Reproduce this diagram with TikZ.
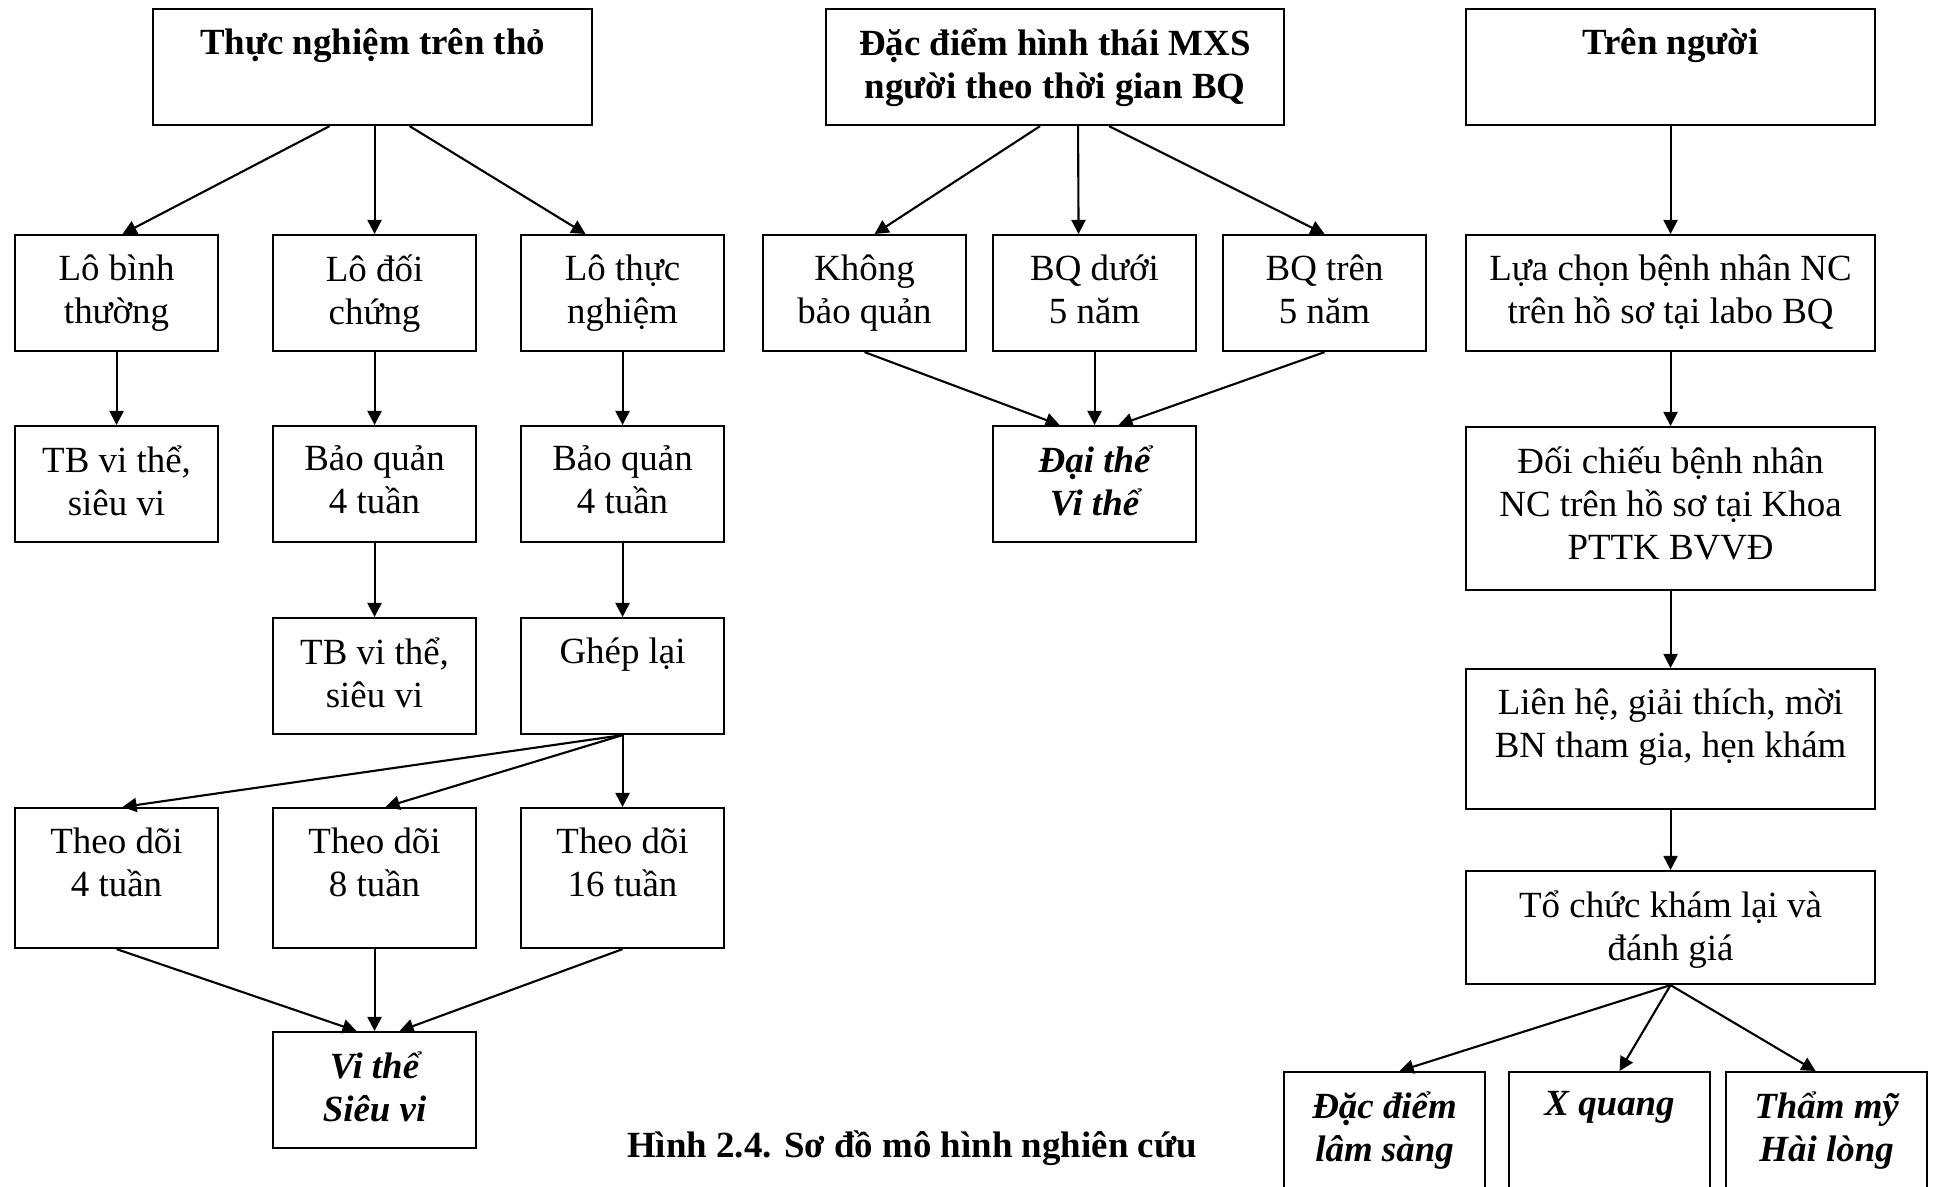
\documentclass[tikz,border=0pt]{standalone}
\usepackage{fontspec}
\setmainfont{Liberation Serif}
\usetikzlibrary{arrows.meta}

\tikzset{
	box/.style={draw, line width=0.6pt, anchor=north west, inner sep=0pt, minimum width=2.03cm, minimum height=1.16cm},
	wide/.style={box, minimum width=4.09cm},
	txt/.style={anchor=north, yshift=-0.2cm, align=center, inner sep=0pt, font=\fontsize{10.5pt}{12.2pt}\selectfont},
	btxt/.style={txt, font=\fontsize{10.5pt}{12.2pt}\selectfont\bfseries},
	itxt/.style={txt, font=\fontsize{10.5pt}{12.2pt}\selectfont\bfseries\itshape},
	arr/.style={-{Triangle[length=4pt,width=4pt]}, line width=0.6pt}
}

\begin{document}
\begin{tikzpicture}
	\useasboundingbox (0,0) rectangle (19.37,-11.86);
	
	% thuc nghiem tren tho
	\node[box, minimum width=4.39cm, label={[btxt]north:Thực nghiệm trên thỏ}] (thuc) at (1.52,-0.08) {};
	\node[box, label={[txt]north:{Lô bình\\thường}}] (lobinh) at (0.14,-2.34) {};
	\node[box, label={[txt]north:{Lô đối\\chứng}}] (lodoi) at (2.72,-2.34) {};
	\node[box, label={[txt]north:{Lô thực\\nghiệm}}] (lothuc) at (5.20,-2.34) {};
	\node[box, label={[txt]north:{TB vi thể,\\siêu vi}}] (tbvi1) at (0.14,-4.25) {};
	\node[box, label={[txt]north:{Bảo quản\\4 tuần}}] (baoquan1) at (2.72,-4.25) {};
	\node[box, label={[txt]north:{Bảo quản\\4 tuần}}] (baoquan2) at (5.20,-4.25) {};
	\node[box, label={[txt]north:{TB vi thể,\\siêu vi}}] (tbvi2) at (2.72,-6.17) {};
	\node[box, label={[txt]north:Ghép lại}] (ghep) at (5.20,-6.17) {};
	\node[box, minimum height=1.40cm, label={[txt]north:{Theo dõi\\4 tuần}}] (theodoi4) at (0.14,-8.07) {};
	\node[box, minimum height=1.40cm, label={[txt]north:{Theo dõi\\8 tuần}}] (theodoi8) at (2.72,-8.07) {};
	\node[box, minimum height=1.40cm, label={[txt]north:{Theo dõi\\16 tuần}}] (theodoi16) at (5.20,-8.07) {};
	\node[box, label={[itxt]north:{Vi thể\\Siêu vi}}] (visieu) at (2.72,-10.31) {};
	
	\draw[arr] ([xshift=-0.43cm]thuc.south) -- ([xshift=0.06cm]lobinh.north);
	\draw[arr] (lodoi.north |- thuc.south) -- (lodoi.north);
	\draw[arr] ([xshift=0.37cm]thuc.south) -- ([xshift=-0.37cm]lothuc.north);
	\draw[arr] (lobinh.south) -- (tbvi1.north);
	\draw[arr] (lodoi.south) -- (baoquan1.north);
	\draw[arr] (lothuc.south) -- (baoquan2.north);
	\draw[arr] (baoquan1.south) -- (tbvi2.north);
	\draw[arr] (baoquan2.south) -- (ghep.north);
	\draw[arr] (ghep.south) -- ([xshift=0.06cm]theodoi4.north);
	\draw[arr] (ghep.south) -- ([xshift=0.11cm]theodoi8.north);
	\draw[arr] (ghep.south) -- (theodoi16.north);
	\draw[arr] (theodoi4.south) -- ([xshift=-0.18cm]visieu.north);
	\draw[arr] (theodoi8.south) -- (visieu.north);
	\draw[arr] (theodoi16.south) -- ([xshift=0.25cm]visieu.north);
	
	% MXS nguoi
	\node[box, minimum width=4.58cm, label={[btxt]north:{Đặc điểm hình thái MXS\\người theo thời gian BQ}}] (dacdiem) at (8.25,-0.08) {};
	\node[box, label={[txt]north:{Không\\bảo quản}}] (khong) at (7.62,-2.34) {};
	\node[box, label={[txt]north:{BQ dưới\\5 năm}}] (duoi) at (9.92,-2.34) {};
	\node[box, label={[txt]north:{BQ trên\\5 năm}}] (tren) at (12.22,-2.34) {};
	\node[box, label={[itxt]north:{Đại thể\\Vi thể}}] (daithe) at (9.92,-4.25) {};
	
	\draw[arr] ([xshift=-0.15cm]dacdiem.south) -- ([xshift=0.10cm]khong.north);
	\draw[arr] ([xshift=0.23cm]dacdiem.south) -- ([xshift=-0.16cm]duoi.north);
	\draw[arr] ([xshift=0.54cm]dacdiem.south) -- (tren.north);
	\draw[arr] (khong.south) -- ([xshift=-0.35cm]daithe.north);
	\draw[arr] (duoi.south) -- (daithe.north);
	\draw[arr] (tren.south) -- ([xshift=0.24cm]daithe.north);
	
	% tren nguoi
	\node[wide, label={[btxt]north:Trên người}] (trennguoi) at (14.65,-0.08) {};
	\node[wide, label={[txt]north:{Lựa chọn bệnh nhân NC\\trên hồ sơ tại labo BQ}}] (luachon) at (14.65,-2.34) {};
	\node[wide, minimum height=1.63cm, label={[txt]north:{Đối chiếu bệnh nhân\\NC trên hồ sơ tại Khoa\\PTTK BVVĐ}}] (doichieu) at (14.65,-4.26) {};
	\node[wide, minimum height=1.40cm, label={[txt]north:{Liên hệ, giải thích, mời\\BN tham gia, hẹn khám}}] (lienhe) at (14.65,-6.68) {};
	\node[wide, minimum height=1.13cm, label={[txt]north:{Tổ chức khám lại và\\đánh giá}}] (tochuc) at (14.65,-8.70) {};
	\node[box, minimum width=2.01cm, minimum height=1.30cm, label={[itxt]north:{Đặc điểm\\lâm sàng}}] (lamsang) at (12.83,-10.71) {};
	\node[box, minimum width=2.01cm, minimum height=1.30cm, label={[itxt]north:X quang}] (xquang) at (15.08,-10.71) {};
	\node[box, minimum width=2.01cm, minimum height=1.30cm, label={[itxt]north:{Thẩm mỹ\\Hài lòng}}] (thammy) at (17.25,-10.71) {};
	
	\draw[arr] (trennguoi.south) -- (luachon.north);
	\draw[arr] (luachon.south) -- (doichieu.north);
	\draw[arr] (doichieu.south) -- (lienhe.north);
	\draw[arr] (lienhe.south) -- (tochuc.north);
	\draw[arr] (tochuc.south) -- ([xshift=0.15cm]lamsang.north);
	\draw[arr] (tochuc.south) -- ([xshift=0.10cm]xquang.north);
	\draw[arr] (tochuc.south) -- ([xshift=-0.11cm]thammy.north);
	
	\node[anchor=base, font=\fontsize{10.5pt}{12.2pt}\selectfont\bfseries] (hinh) at (9.12,-11.57) {Hình 2.4. Sơ đồ mô hình nghiên cứu};
\end{tikzpicture}
\end{document}
